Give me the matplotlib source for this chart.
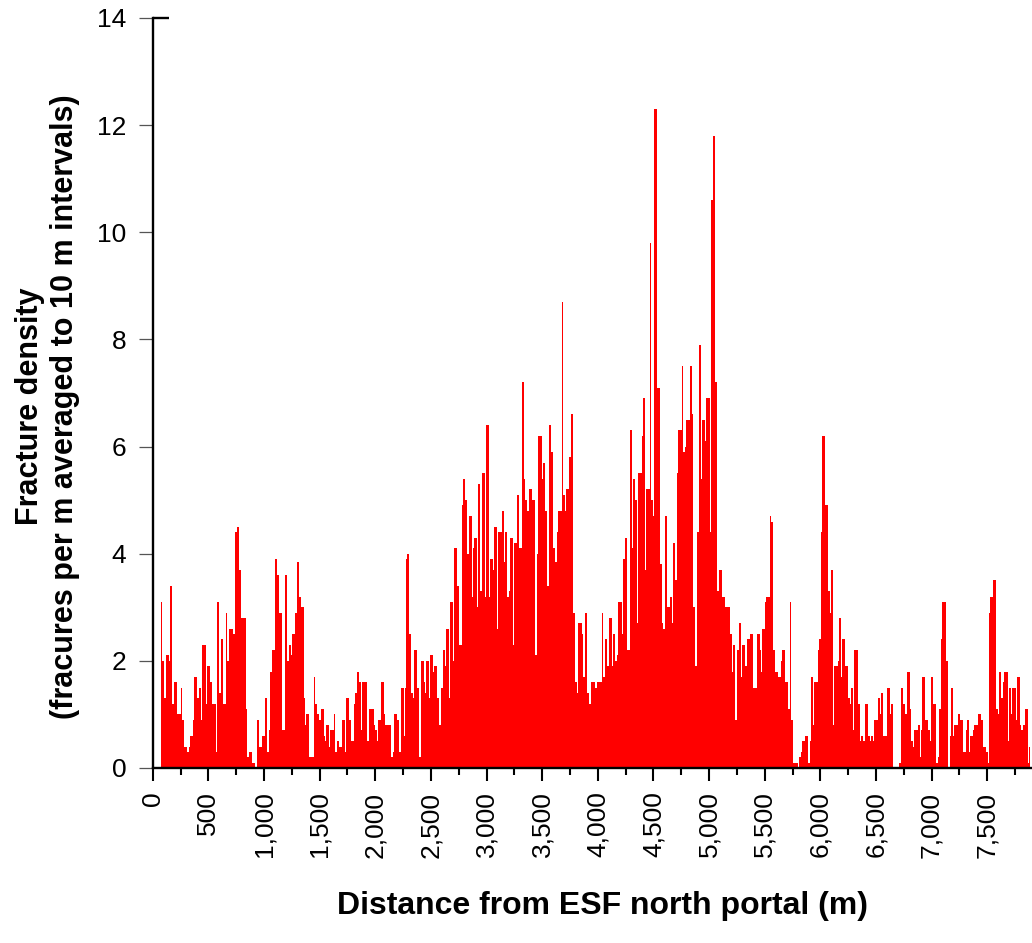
import matplotlib
matplotlib.use("Agg")
import numpy as np
import matplotlib.pyplot as plt
from matplotlib.ticker import MultipleLocator, FuncFormatter

plt.rcParams['font.family'] = ['Liberation Sans', 'DejaVu Sans']

# fracture density, one value per 10 m interval, centres from 80 m to 7880 m
bin_width = 10
density = [
    # 80 - 870 m
    3.1, 2.0, 2.0, 1.3, 2.1, 2.1, 2.1, 2.0, 3.4, 3.4,
    1.2, 1.2, 1.6, 1.6, 1.0, 1.0, 1.0, 1.0, 1.5, 0.9,
    0.9, 0.4, 0.4, 0.3, 0.3, 0.4, 0.6, 0.6, 0.6, 0.9,
    1.7, 1.7, 1.3, 1.3, 1.5, 1.5, 0.9, 2.3, 2.3, 2.3,
    1.2, 1.9, 1.9, 1.9, 1.6, 1.6, 1.2, 1.2, 1.2, 0.3,
    3.1, 3.1, 1.4, 1.4, 2.4, 2.4, 1.2, 1.2, 2.9, 2.0,
    2.0, 2.6, 2.6, 2.6, 2.6, 2.5, 4.4, 4.4, 4.5, 4.5,
    3.7, 3.7, 2.8, 2.8, 2.8, 2.8, 1.1, 0.2, 0.2, 0.3,
    # 880 - 1770 m
    0.3, 0.3, 0.1, 0.1, 0.0, 0.0, 0.9, 0.9, 0.4, 0.4,
    0.4, 0.6, 0.6, 1.3, 1.3, 0.3, 0.3, 0.7, 1.8, 1.8,
    2.2, 2.2, 3.9, 3.9, 3.6, 3.6, 2.9, 2.9, 2.9, 0.7,
    0.7, 3.6, 3.6, 2.0, 2.0, 2.3, 2.3, 2.1, 2.5, 2.5,
    2.9, 2.9, 3.85, 3.85, 3.2, 3.2, 3.0, 3.0, 1.3, 0.8,
    1.0, 1.0, 1.0, 0.2, 0.2, 0.2, 0.2, 1.7, 1.2, 1.2,
    1.0, 1.0, 0.9, 0.9, 1.1, 1.1, 0.6, 0.5, 0.8, 0.8,
    0.8, 0.4, 0.7, 0.7, 0.7, 1.0, 0.3, 0.3, 0.5, 0.5,
    0.4, 0.4, 0.4, 0.9, 0.9, 0.3, 1.3, 1.3, 1.3, 0.9,
    # 1780 - 2670 m
    0.9, 0.5, 0.5, 1.2, 1.4, 1.4, 1.8, 1.8, 1.6, 1.6,
    0.7, 1.6, 1.6, 1.6, 1.6, 0.5, 0.5, 1.1, 1.1, 1.1,
    1.1, 0.8, 0.7, 0.7, 0.5, 0.9, 0.9, 0.9, 1.6, 1.6,
    1.0, 0.8, 0.8, 0.8, 0.8, 0.8, 0.8, 0.2, 0.3, 1.0,
    1.0, 1.0, 0.9, 0.9, 0.3, 0.3, 1.5, 1.5, 0.6, 1.5,
    3.9, 4.0, 4.0, 2.5, 2.5, 1.4, 1.3, 2.2, 2.2, 2.2,
    1.5, 1.5, 0.2, 0.2, 2.0, 2.0, 1.6, 1.4, 2.0, 2.0,
    2.0, 1.3, 2.1, 2.1, 1.8, 1.9, 1.9, 1.9, 1.3, 1.3,
    0.8, 0.8, 1.5, 2.2, 2.2, 1.9, 2.6, 2.6, 2.6, 1.3,
    # 2680 - 3570 m
    3.1, 3.1, 2.0, 4.1, 4.1, 4.1, 3.4, 3.4, 2.3, 2.3,
    4.9, 5.4, 5.4, 5.0, 5.0, 4.0, 4.0, 4.7, 4.7, 3.2,
    4.1, 4.3, 4.3, 4.3, 3.0, 5.3, 5.3, 3.3, 5.5, 5.5,
    5.5, 3.2, 6.4, 6.4, 6.4, 3.2, 3.9, 3.9, 3.7, 4.5,
    4.5, 4.5, 2.6, 4.4, 4.4, 4.4, 4.8, 4.8, 3.85, 4.4,
    4.4, 3.2, 3.2, 3.3, 4.3, 4.3, 2.3, 4.2, 4.2, 4.2,
    5.1, 5.1, 4.1, 4.1, 7.2, 7.2, 5.4, 5.0, 5.0, 4.8,
    4.8, 5.2, 5.2, 5.0, 5.0, 5.0, 2.1, 2.1, 4.0, 6.2,
    6.2, 6.2, 5.4, 5.7, 5.7, 4.8, 4.8, 3.4, 3.4, 6.4,
    # 3580 - 4460 m
    5.9, 5.9, 4.1, 4.1, 3.85, 3.85, 4.4, 4.8, 4.8, 4.8,
    8.7, 5.1, 5.1, 4.8, 5.2, 5.2, 5.2, 5.8, 6.6, 6.6,
    2.9, 2.9, 1.6, 1.6, 1.4, 2.7, 2.7, 2.7, 2.5, 1.7,
    1.7, 2.9, 2.9, 1.4, 1.4, 1.2, 1.6, 1.6, 1.6, 1.6,
    1.5, 1.5, 1.6, 1.6, 1.6, 1.6, 2.9, 1.7, 1.7, 2.4,
    2.4, 1.9, 1.9, 2.8, 2.8, 1.9, 2.5, 2.5, 2.0, 2.0,
    2.1, 3.1, 3.1, 3.1, 2.5, 3.9, 3.9, 4.3, 4.3, 2.2,
    2.2, 6.3, 6.3, 4.1, 5.4, 5.4, 5.0, 5.0, 2.7, 5.5,
    5.5, 5.5, 6.2, 6.9, 6.9, 3.7, 5.2, 5.2, 5.2,
    # 4470 - 5370 m
    9.8, 5.0, 5.0, 4.7, 12.3, 12.3, 12.3, 7.1, 7.1, 3.8,
    3.8, 2.7, 2.6, 2.6, 4.7, 4.7, 3.0, 3.0, 3.2, 3.2,
    2.7, 4.2, 4.2, 3.5, 3.5, 5.5, 6.3, 6.3, 6.3, 7.5,
    5.9, 5.9, 6.0, 6.5, 6.5, 6.5, 7.5, 7.5, 6.6, 3.0,
    3.0, 1.9, 1.9, 4.4, 7.9, 7.9, 5.4, 6.5, 6.5, 6.5,
    6.1, 6.9, 6.9, 6.9, 4.4, 10.6, 10.6, 11.8, 11.8, 7.2,
    7.2, 3.3, 3.7, 3.7, 3.7, 3.2, 3.2, 3.2, 3.0, 3.0,
    3.0, 3.0, 2.5, 2.5, 1.8, 2.3, 2.3, 0.9, 0.9, 2.2,
    2.7, 2.7, 1.7, 2.3, 2.3, 2.3, 1.9, 1.9, 2.4, 2.4,
    2.5,
    # 5380 - 6270 m
    2.5, 2.5, 1.5, 1.5, 1.5, 1.5, 2.5, 2.5, 2.2, 1.8,
    2.6, 2.6, 2.6, 3.1, 3.2, 3.2, 3.2, 4.7, 4.6, 4.6,
    2.2, 2.2, 1.8, 1.8, 1.7, 1.7, 1.7, 2.0, 2.2, 2.2,
    2.2, 1.6, 1.6, 1.1, 1.1, 3.1, 0.9, 0.9, 0.1, 0.1,
    0.1, 0.1, 0.0, 0.2, 0.2, 0.3, 0.5, 0.5, 0.5, 0.6,
    0.6, 0.1, 0.1, 0.5, 1.7, 1.7, 0.8, 1.6, 1.6, 1.6,
    2.2, 2.4, 2.4, 4.4, 6.2, 6.2, 6.2, 4.9, 4.9, 3.3,
    3.3, 2.9, 3.7, 3.7, 0.8, 1.9, 1.9, 1.9, 2.0, 2.8,
    2.8, 1.7, 2.4, 2.4, 2.4, 1.9, 1.9, 1.3, 1.3, 1.2,
    # 6280 - 7170 m
    1.5, 1.5, 0.7, 2.2, 2.2, 2.2, 1.2, 1.2, 0.5, 0.6,
    0.6, 0.5, 0.5, 1.2, 1.2, 0.6, 0.6, 0.5, 0.6, 0.6,
    0.5, 0.9, 0.9, 0.9, 1.3, 1.3, 1.0, 1.4, 1.4, 0.6,
    0.6, 0.6, 1.5, 1.5, 1.5, 1.0, 1.2, 1.2, 0.0, 0.0,
    0.0, 0.0, 0.0, 0.1, 0.1, 1.5, 1.5, 1.2, 1.2, 1.0,
    1.8, 1.8, 1.8, 1.1, 0.5, 0.5, 0.4, 0.7, 0.7, 0.7,
    0.8, 0.8, 0.2, 0.7, 1.7, 1.7, 1.7, 0.9, 0.9, 0.7,
    0.7, 0.5, 1.7, 1.7, 1.2, 1.2, 0.1, 0.1, 0.2, 1.1,
    1.1, 2.4, 3.1, 3.1, 3.1, 2.0, 2.0, 0.0, 0.0, 0.6,
    # 7180 - 7880 m
    1.5, 1.5, 0.6, 0.8, 0.8, 0.8, 1.0, 1.0, 0.9, 0.9,
    0.9, 0.3, 0.3, 0.7, 0.9, 0.9, 0.3, 0.6, 0.6, 0.6,
    0.7, 0.8, 0.8, 0.8, 1.0, 1.0, 1.0, 0.9, 0.9, 0.4,
    0.4, 0.3, 0.3, 0.1, 2.9, 3.2, 3.2, 3.2, 3.5, 3.5,
    1.1, 1.1, 1.0, 1.8, 1.8, 1.3, 1.3, 1.6, 1.8, 1.8,
    1.8, 0.5, 1.5, 1.5, 1.0, 1.5, 1.5, 1.5, 0.9, 1.7,
    1.7, 1.7, 0.8, 0.7, 0.7, 0.8, 1.1, 1.1, 1.1, 0.1,
    0.4,
]
distance = 80 + bin_width * np.arange(len(density))

fig = plt.figure(figsize=(10.32, 9.43), dpi=100)
ax = fig.add_axes([0.148, 0.1856, 0.851, 0.7954])

ax.bar(distance, density, width=bin_width, color='#ff0000',
       linewidth=0, antialiased=False)

ax.set_xlim(0, 7893)
ax.set_ylim(0, 14)

for side in ('top', 'right'):
    ax.spines[side].set_visible(False)
for side in ('left', 'bottom'):
    ax.spines[side].set_linewidth(1.7)

# short cap at the top of the y axis
ax.plot([0, 150], [14, 14], color='black', linewidth=1.7,
        clip_on=False, solid_capstyle='butt')

ax.xaxis.set_major_locator(MultipleLocator(500))
ax.xaxis.set_minor_locator(MultipleLocator(250))
ax.xaxis.set_major_formatter(FuncFormatter(lambda v, p: f'{int(v):,}'))
ax.yaxis.set_major_locator(MultipleLocator(2))

ax.tick_params(axis='x', which='major', length=9, width=1.5,
               labelsize=19, labelrotation=90, pad=8)
ax.tick_params(axis='x', which='minor', length=5, width=1.5)
ax.tick_params(axis='y', which='major', length=10, width=0.9,
               color='#555555', labelsize=19, pad=9)

fig.text(0.584, 0.039, 'Distance from ESF north portal (m)',
         ha='center', va='center', fontsize=23, fontweight='bold')
fig.text(0.046, 0.569,
         'Fracture density\n(fracures per m averaged to 10 m intervals)',
         ha='center', va='center', rotation=90, multialignment='center',
         fontsize=22, fontweight='bold', linespacing=1.2)

fig.savefig('out.png', dpi=100)
